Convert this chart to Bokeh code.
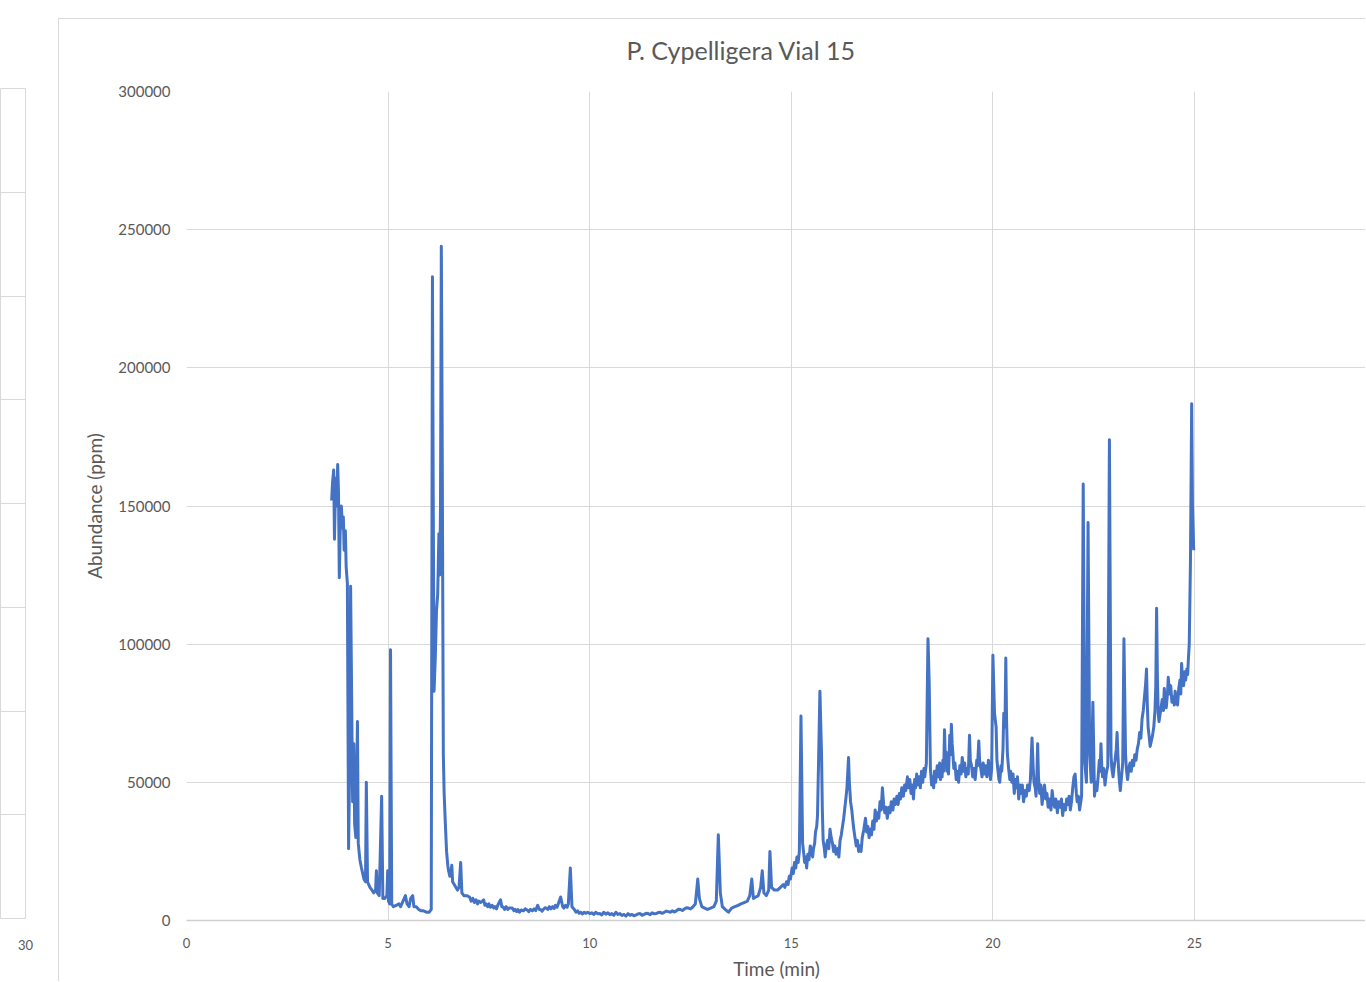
from bokeh.plotting import figure
from bokeh.models import Range1d, FixedTicker, NumeralTickFormatter, Spacer, Title
from bokeh.layouts import row, column
from bokeh.embed import file_html
from bokeh.resources import INLINE

# ---------------- data ----------------
# time in minutes, abundance in thousands of ppm; one pair of lists per region

front_t = [3.60, 3.62, 3.65, 3.67, 3.70, 3.72, 3.75, 3.77, 3.79, 3.81, 3.84, 3.87, 3.89, 3.91, 3.94, 3.96, 3.99,
           4.02, 4.05, 4.07, 4.09, 4.12, 4.15, 4.17, 4.20, 4.24, 4.26, 4.30, 4.34, 4.37, 4.40, 4.44, 4.46, 4.49,
           4.55, 4.60, 4.64, 4.69, 4.71, 4.73, 4.78, 4.84, 4.87, 4.92, 4.97, 4.99, 5.01, 5.04, 5.06, 5.09, 5.13,
           5.20, 5.27, 5.31, 5.37, 5.43, 5.47, 5.52, 5.56, 5.61, 5.64, 5.70, 5.76, 5.82, 5.88, 5.95, 6.02, 6.07]
front_v = [152, 158, 163, 138, 160, 150, 165, 155, 124, 140, 150, 142, 146, 134, 141, 128, 122,
           26, 60, 121, 90, 43, 64, 35, 30, 72, 28, 22, 19, 17, 15, 14, 50, 14,
           12, 11, 10, 11, 18, 10, 9, 45, 8, 8, 9, 18, 7, 6, 98, 6, 5,
           5.5, 6, 5, 7, 9, 6, 5, 8, 9, 5, 5, 4, 3.5, 3.5, 3, 3, 4]

twin_t = [6.10, 6.12, 6.14, 6.17, 6.20, 6.23, 6.26, 6.28, 6.30, 6.32, 6.34, 6.37, 6.39, 6.42, 6.45, 6.48, 6.50,
          6.53, 6.56, 6.58, 6.60, 6.64, 6.68, 6.72, 6.76, 6.80, 6.83, 6.88, 6.95]
twin_v = [233, 150, 83, 95, 112, 118, 140, 125, 150, 244, 180, 60, 46, 35, 25, 20, 18,
          16, 17, 20, 14, 13, 12, 11, 12, 21, 10, 9, 9]

base_t = [7.02, 7.06, 7.10, 7.14, 7.18, 7.22, 7.25, 7.30, 7.37, 7.40, 7.43, 7.47, 7.50, 7.54, 7.58, 7.62, 7.65, 7.69, 7.72, 7.79, 7.82, 7.85, 7.89, 7.93, 7.97, 8.00,
          8.08, 8.12, 8.15, 8.19, 8.22, 8.26, 8.30, 8.36, 8.40, 8.45, 8.49, 8.53, 8.58, 8.62, 8.66, 8.71, 8.75, 8.78, 8.82, 8.85, 8.89, 8.92, 8.96, 9.00,
          9.04, 9.08, 9.12, 9.15, 9.19, 9.22, 9.28, 9.33, 9.36, 9.40, 9.44, 9.47, 9.52, 9.56, 9.62, 9.66, 9.70, 9.74, 9.78, 9.82, 9.86, 9.90, 9.95, 10.00,
          10.05, 10.10, 10.15, 10.20, 10.25, 10.30, 10.35, 10.40, 10.45, 10.50, 10.55, 10.60, 10.65, 10.70, 10.75, 10.80, 10.85, 10.90, 10.95, 11.00,
          11.05, 11.10, 11.15, 11.20, 11.25, 11.30, 11.35, 11.40, 11.45, 11.50, 11.55, 11.60, 11.65, 11.70, 11.75, 11.80, 11.85, 11.90, 11.95, 12.00,
          12.05, 12.10, 12.15, 12.20, 12.25, 12.30, 12.35, 12.40, 12.45, 12.50, 12.55]
base_v = [8.5, 7, 8, 6.5, 7.5, 6, 7, 6.5, 7.5, 5.5, 6, 5, 6, 4.8, 5.5, 4.5, 5, 4.2, 5.5, 7.5, 5, 5, 4, 5, 4, 4.5,
          4.5, 3.5, 4, 3.2, 4, 3, 3.8, 3.5, 4.2, 3.8, 3.2, 4, 3.5, 4.2, 3.6, 5.5, 4, 4, 3.4, 4, 4.6, 4.5, 4, 5,
          4.2, 5, 4.4, 5.5, 4.8, 6, 8.5, 5, 4.5, 5.5, 4.8, 6, 19, 5, 4, 3, 3.5, 2.6, 3, 2.4, 3, 2.6, 3, 2.5,
          2.8, 2.2, 3, 2.4, 2.5, 2, 3, 2.3, 2.8, 2.1, 2.5, 1.9, 3, 2.2, 2.5, 1.8, 2.2, 1.6, 2.5, 1.9,
          2.2, 1.7, 2, 2.4, 2.5, 1.9, 2.2, 2.6, 2.5, 2.1, 2.8, 2.4, 2.5, 2.9, 3, 2.6, 3, 3.4, 3.2, 3,
          3.5, 3.1, 3.5, 4.1, 4, 3.6, 4.2, 4.6, 4.5, 4.2, 4.8]

rise_t = [12.62, 12.68, 12.72, 12.78, 12.85, 12.92, 13.00, 13.08, 13.14, 13.19, 13.24, 13.29, 13.36, 13.44,
          13.52, 13.60, 13.68, 13.75, 13.83, 13.91, 13.97, 14.02, 14.06, 14.12, 14.18, 14.24, 14.28, 14.32,
          14.38, 14.44, 14.47, 14.51, 14.58, 14.66, 14.73, 14.80, 14.84, 14.88, 14.92, 14.95, 14.98]
rise_v = [6, 15, 8, 5, 4.5, 4, 4.5, 5, 7, 31, 10, 5, 4, 3,
          4.5, 5, 5.5, 6, 6.5, 7, 9, 15, 8, 8.5, 9, 12, 18, 10,
          9, 11, 25, 12, 11, 11, 12, 13, 12, 14, 13, 16, 15]

mid_t = [15.02, 15.05, 15.08, 15.11, 15.14, 15.17, 15.20, 15.24, 15.28, 15.31, 15.33, 15.36, 15.38, 15.41, 15.44, 15.47, 15.50, 15.53, 15.55, 15.58,
         15.60, 15.63, 15.65, 15.71, 15.75, 15.77, 15.79, 15.82, 15.84, 15.87, 15.90, 15.93, 15.96, 15.99, 16.02, 16.05, 16.08, 16.11, 16.15, 16.18,
         16.21, 16.24, 16.27, 16.30, 16.33, 16.36, 16.38, 16.42, 16.44, 16.47, 16.50, 16.52, 16.55]
mid_v = [19, 17, 21, 19, 23, 21, 25, 74, 28, 24, 21, 23, 19, 24, 22, 27, 25, 23, 26, 28,
         32, 34, 38, 83, 60, 40, 29, 26, 23, 27, 29, 26, 33, 30, 28, 25, 27, 24, 26, 23,
         29, 31, 34, 37, 41, 45, 48, 59, 50, 43, 40, 37, 33]

slope_t = [16.58, 16.61, 16.64, 16.67, 16.70, 16.73, 16.76, 16.80, 16.84, 16.87, 16.90, 16.93, 16.96, 16.99, 17.02, 17.05, 17.08, 17.11, 17.14, 17.17,
           17.20, 17.23, 17.26, 17.29, 17.32, 17.35, 17.38, 17.42, 17.45, 17.48, 17.52, 17.55, 17.58, 17.62, 17.65, 17.68, 17.71, 17.74, 17.78, 17.81,
           17.84, 17.88, 17.91, 17.94, 17.97, 18.00, 18.03, 18.06, 18.08, 18.11, 18.13, 18.17, 18.20, 18.23, 18.26, 18.29, 18.31, 18.35]
slope_v = [30, 27, 29, 25, 27, 25, 30, 33, 37, 32, 34, 30, 33, 31, 36, 33, 40, 36, 39, 37,
           43, 40, 48, 42, 39, 41, 37, 41, 39, 43, 40, 44, 42, 45, 42, 46, 44, 48, 45, 49,
           47, 52, 48, 51, 46, 49, 44, 51, 48, 53, 49, 52, 48, 54, 50, 55, 52, 57]

plateau_t = [18.39, 18.42, 18.45, 18.48, 18.50, 18.53, 18.55, 18.58, 18.62, 18.65, 18.68, 18.70, 18.72, 18.74, 18.76, 18.78, 18.80, 18.82, 18.84, 18.86,
             18.88, 18.90, 18.93, 18.95, 18.97, 18.99, 19.01, 19.03, 19.06, 19.09, 19.12, 19.15, 19.18, 19.21, 19.24, 19.27, 19.30, 19.33, 19.36, 19.39,
             19.42, 19.44, 19.47, 19.50, 19.53, 19.56, 19.60, 19.62, 19.65, 19.67, 19.70, 19.73, 19.76, 19.79, 19.82, 19.85, 19.89, 19.92, 19.94, 19.97]
plateau_v = [102, 86, 55, 49, 52, 48, 54, 50, 56, 52, 57, 51, 54, 52, 58, 54, 69, 58, 61, 54,
             57, 53, 67, 60, 71, 64, 60, 55, 57, 51, 54, 50, 56, 53, 59, 54, 57, 52, 55, 53,
             67, 58, 56, 52, 55, 51, 58, 56, 65, 58, 55, 52, 57, 53, 56, 52, 58, 54, 51, 55]

dip_t = [20.00, 20.04, 20.08, 20.10, 20.12, 20.15, 20.17, 20.20, 20.22, 20.25, 20.27, 20.30, 20.32, 20.34, 20.36, 20.39, 20.42, 20.44, 20.47, 20.50,
         20.53, 20.56, 20.58, 20.61, 20.64, 20.67, 20.70, 20.73, 20.76, 20.80, 20.83, 20.86, 20.90, 20.93, 20.97, 21.00, 21.02, 21.05, 21.07, 21.09,
         21.11, 21.13, 21.16, 21.19, 21.22, 21.25, 21.28, 21.31, 21.34, 21.37, 21.40, 21.44, 21.47, 21.50, 21.53, 21.56, 21.60, 21.63, 21.67, 21.70,
         21.73, 21.76, 21.80, 21.83, 21.86, 21.89, 21.92, 21.95, 21.98, 22.01, 22.04, 22.07, 22.09, 22.12, 22.15, 22.18, 22.20]
dip_v = [96, 75, 70, 58, 55, 51, 50, 56, 54, 62, 75, 70, 95, 72, 60, 55, 51, 54, 50, 53,
         46, 51, 48, 52, 44, 49, 46, 49, 43, 47, 45, 49, 47, 51, 66, 55, 50, 48, 45, 52,
         64, 52, 46, 49, 42, 46, 49, 44, 46, 41, 44, 40, 47, 43, 41, 44, 39, 43, 41, 44,
         38, 42, 40, 44, 42, 45, 40, 43, 48, 52, 53, 46, 43, 45, 40, 43, 45]

late_t = [22.24, 22.28, 22.32, 22.36, 22.40, 22.44, 22.48, 22.52, 22.55, 22.58, 22.61, 22.64, 22.66, 22.68, 22.70, 22.72, 22.75, 22.78, 22.81, 22.85,
          22.89, 22.93, 22.95, 22.98, 23.01, 23.03, 23.06, 23.08, 23.10, 23.12, 23.14, 23.16, 23.19, 23.22, 23.25, 23.29, 23.31, 23.34, 23.37, 23.40,
          23.43, 23.46, 23.49, 23.52, 23.55, 23.58, 23.61, 23.64, 23.67, 23.70, 23.73, 23.76, 23.79, 23.81, 23.83, 23.85, 23.88, 23.90, 23.93, 23.96,
          23.99, 24.02, 24.04, 24.06, 24.08, 24.10, 24.12, 24.15, 24.18, 24.20, 24.23, 24.25, 24.28, 24.30, 24.33, 24.35, 24.38, 24.41, 24.44, 24.47,
          24.50, 24.52, 24.55, 24.58, 24.61, 24.64, 24.66, 24.68, 24.70, 24.73, 24.76, 24.78, 24.81, 24.83, 24.85, 24.87, 24.90, 24.93, 24.95, 24.98]
late_v = [158, 57, 50, 144, 60, 50, 79, 45, 50, 47, 52, 58, 54, 64, 56, 52, 55, 49, 53, 56,
          174, 60, 55, 52, 56, 58, 62, 68, 60, 54, 50, 47, 52, 57, 102, 60, 55, 51, 55, 57,
          54, 58, 56, 60, 58, 62, 64, 68, 66, 73, 76, 81, 86, 91, 78, 70, 66, 63, 65, 67,
          70, 76, 85, 113, 88, 75, 72, 75, 78, 80, 76, 84, 79, 77, 82, 88, 82, 85, 79, 81,
          78, 83, 80, 78, 84, 87, 82, 93, 88, 85, 90, 87, 91, 89, 95, 100, 130, 187, 150, 134]

x_ticks = [0, 5, 10, 15, 20, 25, 30]
y_ticks = [0, 50000, 100000, 150000, 200000, 250000, 300000]
title_text = "P. Cypelligera Vial 15"
x_label = "Time (min)"
y_label = "Abundance (ppm)"

# fragment of the neighbouring chart visible at the left edge
frag_x_ticks = [30]
frag_y_ticks = [0, 1, 2, 3, 4, 5, 6, 7, 8]

# assemble the series
time_min = []
abundance = []
for ts, vs in [(front_t, front_v), (twin_t, twin_v), (base_t, base_v), (rise_t, rise_v),
               (mid_t, mid_v), (slope_t, slope_v), (plateau_t, plateau_v), (dip_t, dip_v),
               (late_t, late_v)]:
    n = min(len(ts), len(vs))
    time_min += ts[:n]
    abundance += [v * 1000 for v in vs[:n]]

TEXT = "#595959"
GRID = "#D9D9D9"
FONT = "Lato"

# ---------------- left fragment figure ----------------
left = figure(width=58, height=982, output_backend="svg", toolbar_location=None,
              x_range=Range1d(29.0, 30), y_range=Range1d(0, 8),
              y_axis_location=None, min_border_left=0, min_border_right=33,
              min_border_top=88, min_border_bottom=64)
left.outline_line_color = GRID
left.xgrid.visible = False
left.ygrid.ticker = FixedTicker(ticks=frag_y_ticks)
left.ygrid.grid_line_color = GRID
left.xaxis.ticker = FixedTicker(ticks=frag_x_ticks)
left.xaxis.axis_line_color = None
left.xaxis.major_tick_line_color = None
left.xaxis.minor_tick_line_color = None
left.xaxis.major_label_standoff = 15
left.xaxis.major_label_text_font = FONT
left.xaxis.major_label_text_font_size = "13px"
left.xaxis.major_label_text_color = TEXT

# ---------------- main chart ----------------
p = figure(width=1307, height=963, output_backend="svg", toolbar_location=None,
           x_range=Range1d(0, 29.266), y_range=Range1d(0, 300000),
           min_border_left=127, min_border_right=0, min_border_top=72, min_border_bottom=62,
           title=None)
p.styles = {"border-left": "1px solid #D9D9D9", "border-top": "1px solid #D9D9D9"}
p.outline_line_color = None

p.line(time_min, abundance, line_color="#4472C4", line_width=3, line_join="round")

# blank gap panel between the plot area and the title, then the title itself
p.add_layout(Title(text=" ", text_font_size="1px", standoff=20), "above")
p.add_layout(Title(text=title_text, text_font=FONT, text_font_size="25px",
                   text_font_style="normal", text_color=TEXT, align="left",
                   offset=440, standoff=8), "above")

p.xgrid.ticker = FixedTicker(ticks=x_ticks)
p.ygrid.ticker = FixedTicker(ticks=y_ticks)
p.xgrid.grid_line_color = GRID
p.ygrid.grid_line_color = GRID

p.xaxis.ticker = FixedTicker(ticks=x_ticks)
p.yaxis.ticker = FixedTicker(ticks=y_ticks)
p.yaxis.formatter = NumeralTickFormatter(format="0")

for ax in (p.xaxis[0], p.yaxis[0]):
    ax.major_tick_line_color = None
    ax.minor_tick_line_color = None
    ax.major_tick_out = 0
    ax.major_label_text_font = FONT
    ax.major_label_text_color = TEXT
    ax.axis_label_text_font = FONT
    ax.axis_label_text_color = TEXT
    ax.axis_label_text_font_style = "normal"
    ax.axis_label_text_font_size = "19px"

p.xaxis.axis_label = x_label
p.yaxis.axis_label = y_label
p.xaxis.axis_line_color = "#CFCFCF"
p.xaxis.axis_line_width = 1.5
p.yaxis.axis_line_color = None
p.xaxis.major_label_text_font_size = "13px"
p.yaxis.major_label_text_font_size = "15px"
p.xaxis.major_label_standoff = 17
p.yaxis.major_label_standoff = 16
p.xaxis.axis_label_standoff = 6
p.yaxis.axis_label_standoff = 9

layout = row(left, column(Spacer(width=1307, height=18), p))

open("out.html", "w").write(file_html(layout, INLINE))
